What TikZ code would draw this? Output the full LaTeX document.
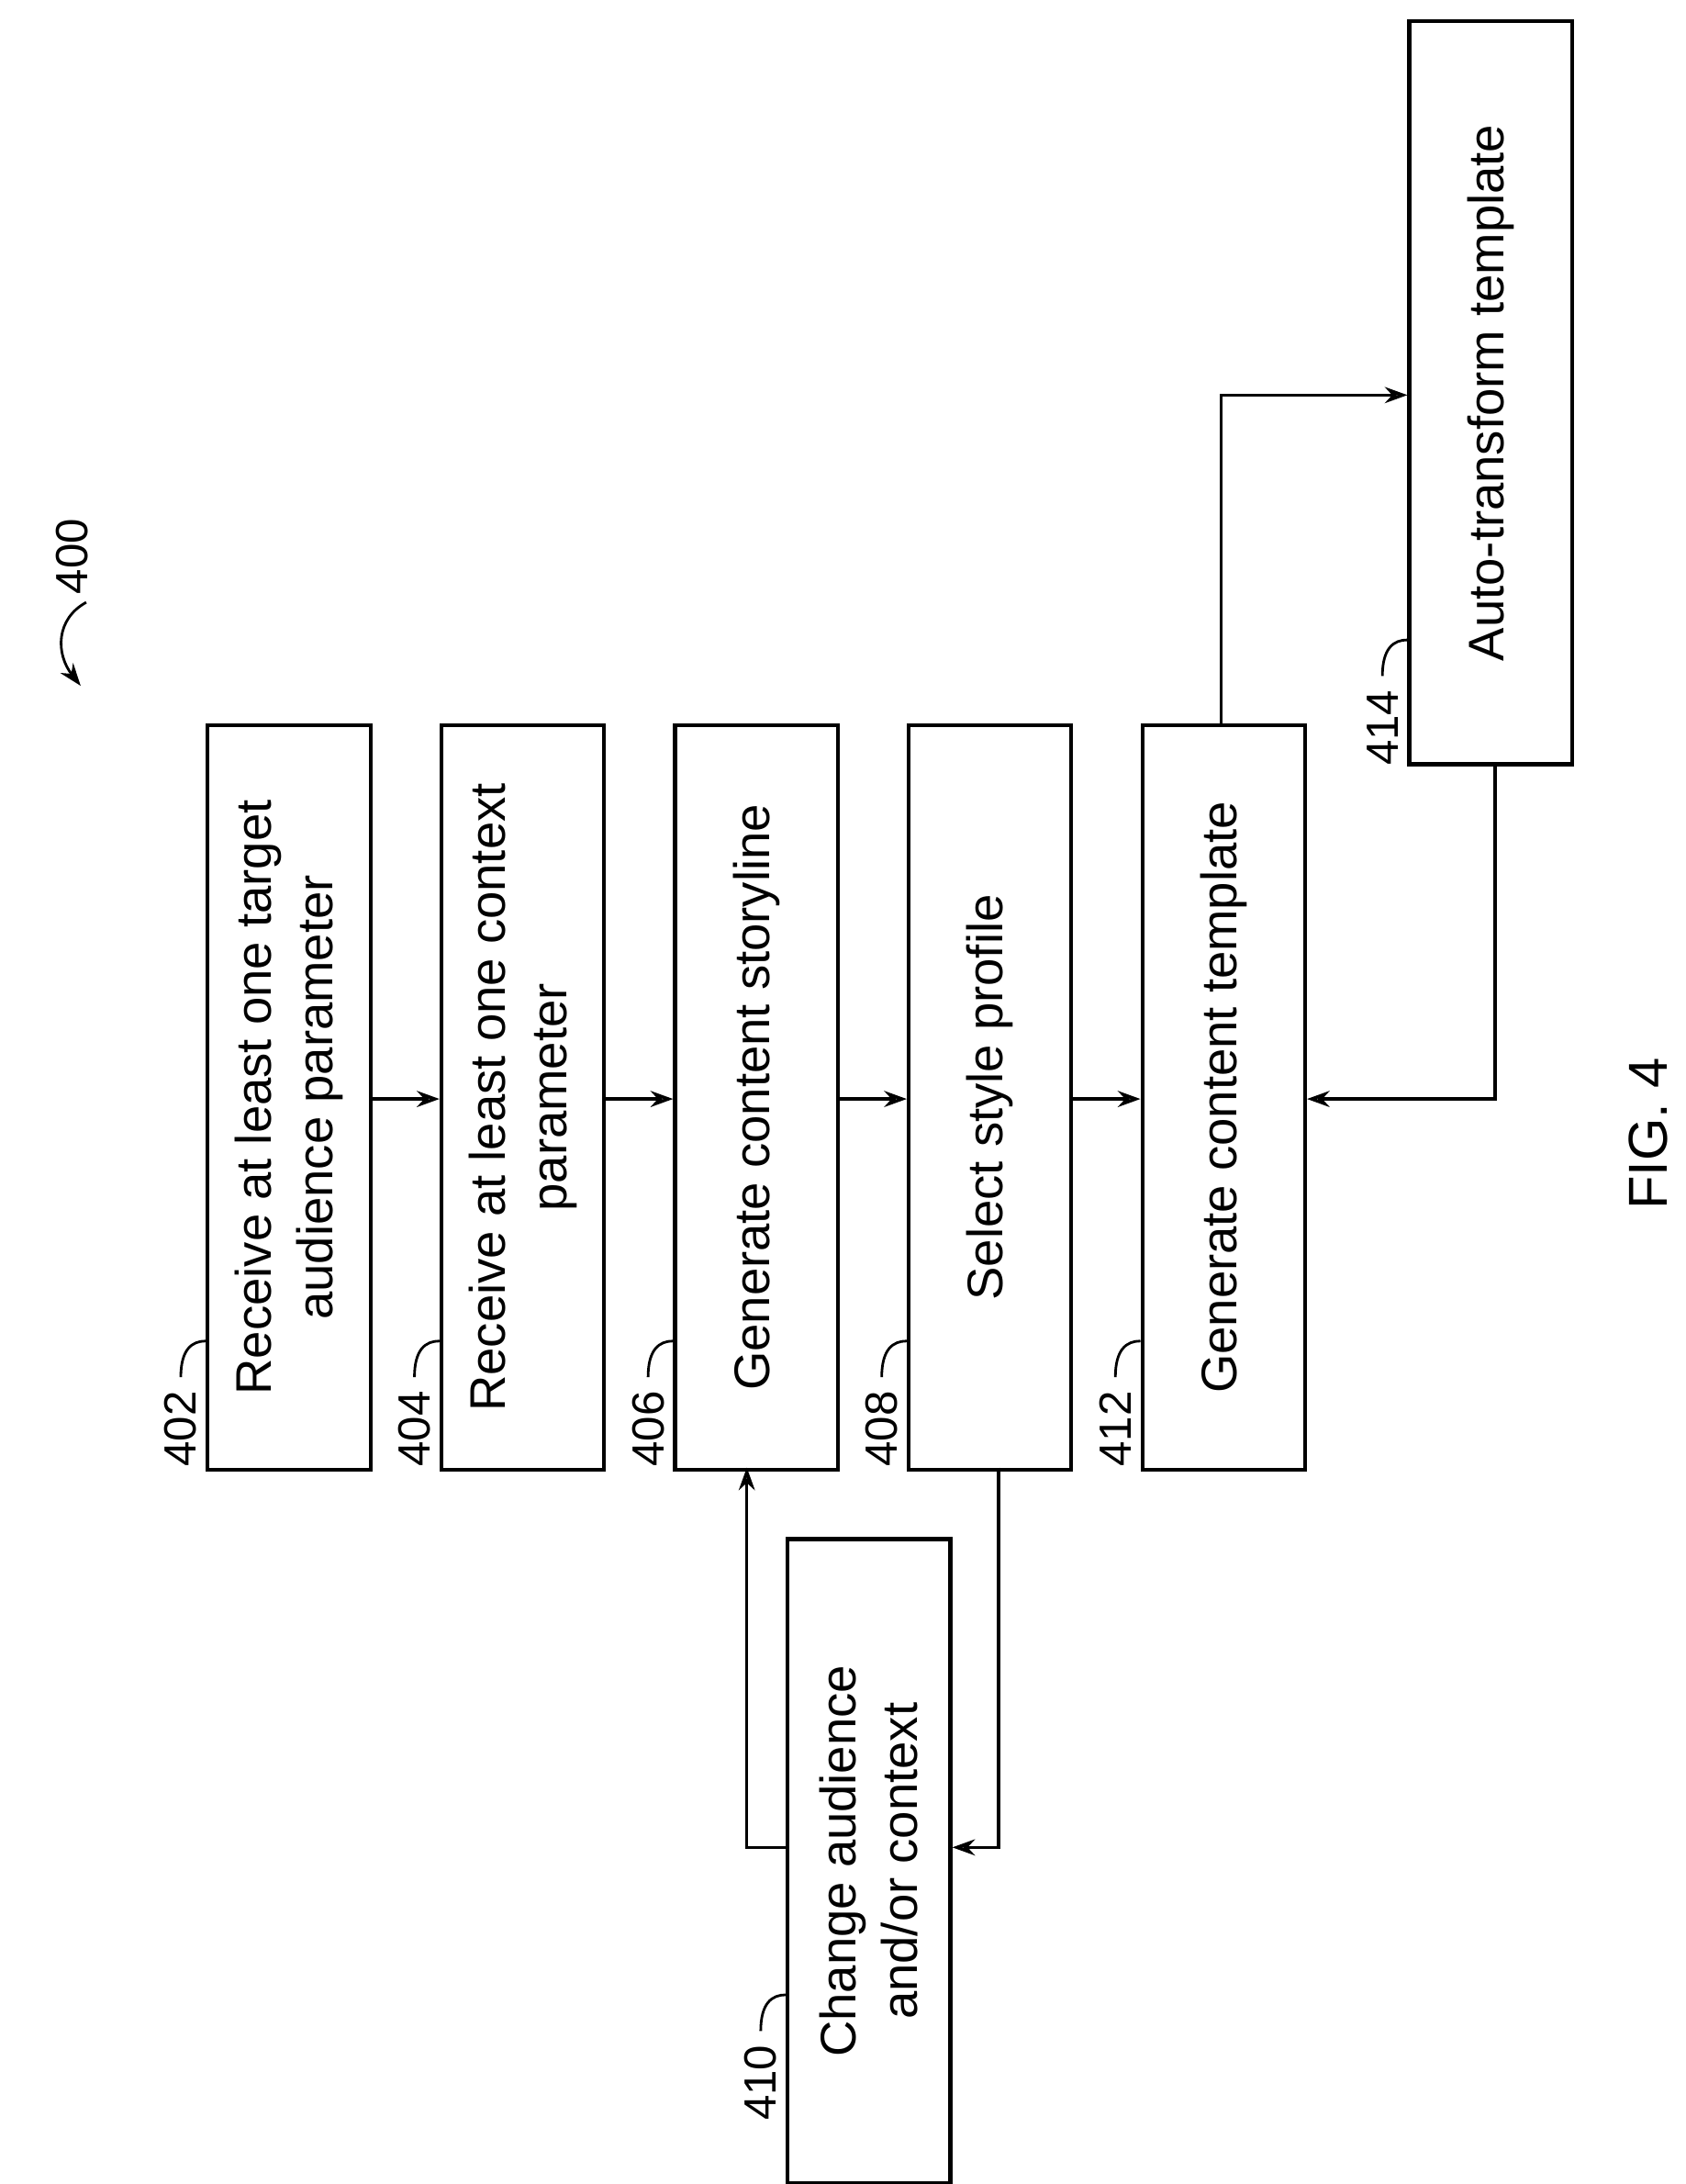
\documentclass[tikz,border=0pt]{standalone}
\usepackage{fontspec}
\setmainfont{Liberation Sans}
\usetikzlibrary{arrows.meta}
\begin{document}
\begin{tikzpicture}[x=0.01515cm,y=-0.01515cm,
  box/.style={draw,line width=1.2pt,minimum width=117*0.01515cm,inner sep=0},
  txt/.style={rotate=90,align=center,font=\fontsize{15.5}{19}\selectfont},
  num/.style={rotate=90,font=\fontsize{14}{16}\selectfont,anchor=east},
  arr/.style={draw,line width=1pt,-{Stealth[length=7pt,width=5pt,open]}}]
\useasboundingbox (0,0) rectangle (1212,1570);
\foreach \n/\x in {402/148,404/316,406/484,408/652,412/820}{
  \node[box,minimum height=535*0.01515cm,anchor=north west] (b\n) at (\x,520) {};
}
\node[box,minimum height=534*0.01515cm,anchor=north west] (b414) at (1012,14) {};
\node[box,minimum height=463*0.01515cm,anchor=north west] (b410) at (565,1105) {};
\node[txt] (t402) at (b402) {Receive at least one target\\audience parameter};
\node[txt] (t404) at (b404) {Receive at least one context\\parameter};
\node[txt] (t406) at (b406) {Generate content storyline};
\node[txt] (t408) at (b408) {Select style profile};
\node[txt] (t412) at (b412) {Generate content template};
\node[txt] (t414) at (b414) {Auto-transform template};
\node[txt] (t410) at (b410) {Change audience\\and/or context};
% reference numerals
\foreach \n/\x/\y in {402/130/992,404/298/992,406/466/992,408/634/992,412/802/992,410/547/1462,414/994/488}{
  \node[num] (l\n) at (\x,\y) {\n};
  \draw[line width=0.8pt] (\x,\y-2) .. controls (\x,\y-22) and (\x+8,\y-28) .. (\x+18,\y-28);
}
\node[rotate=90,font=\fontsize{14}{16}\selectfont] (l400) at (52,400) {400};
\coordinate (c400) at (58,493);
\draw[line width=0.8pt,-{Stealth[length=7pt,width=5pt]}] (62,433) .. controls (40,445) and (40,470) .. (c400);
\node[rotate=90,font=\fontsize{17}{20}\selectfont] (fig) at (1185,815) {FIG. 4};
% connectors
\foreach \a/\b in {402/404,404/406,406/408,408/412}{
  \draw[arr] (b\a.east|-0,790) -- (b\b.west|-0,790);
}
\draw[arr] (878,520) |- (b414.west|-0,284);
\draw[arr] (1075,548) |- (b412.east|-0,790);
\draw[arr] (718,1055) |- (b410.east|-0,1328);
\draw[arr] (b410.west|-0,1328) -| (537,1055);
\end{tikzpicture}
\end{document}
